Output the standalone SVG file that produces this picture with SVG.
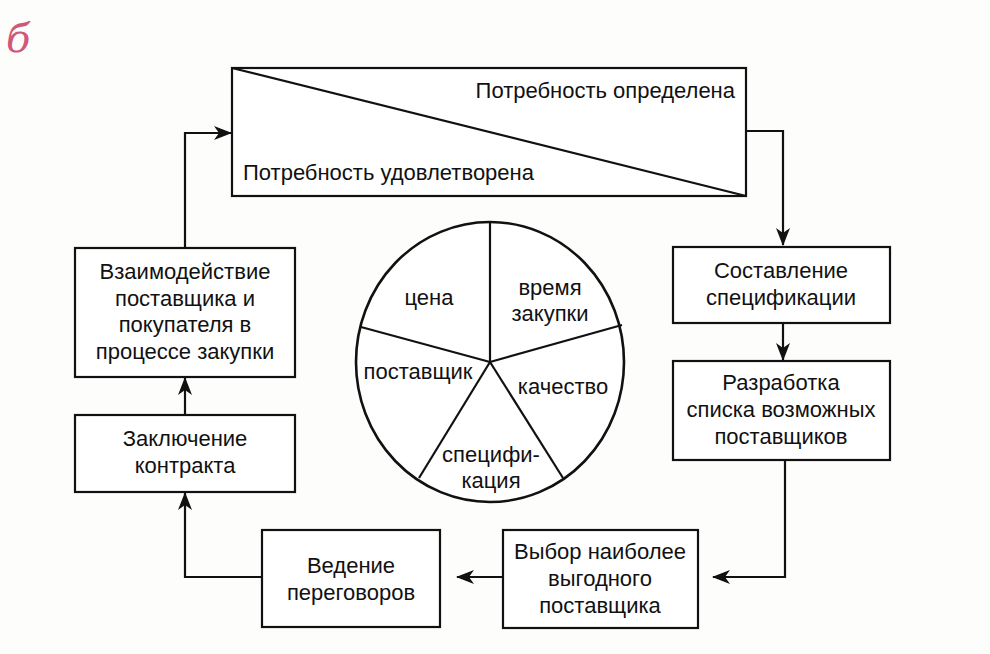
<svg xmlns="http://www.w3.org/2000/svg" width="990" height="654" viewBox="0 0 990 654">
<defs>
<marker id="arr" viewBox="0 0 18 14" markerWidth="18" markerHeight="14" refX="17" refY="7" orient="auto" markerUnits="userSpaceOnUse">
<path d="M0,0 L18,7 L0,14 L5,7 Z" fill="#111"/>
</marker>
</defs>
<style>
.box{fill:#fff;stroke:#111;stroke-width:2.2}
.ln{fill:none;stroke:#111;stroke-width:2.2}
.t{font-family:"Liberation Sans",Arial,sans-serif;font-size:22px;fill:#111;text-anchor:middle}
.s{font-family:"Liberation Sans",Arial,sans-serif;font-size:22px;fill:#111}
</style>
<rect width="990" height="654" fill="#fdfdfb"/>
<text x="6" y="52" font-family="'DejaVu Serif',serif" font-style="italic" font-size="40" fill="#d0587a">б</text>

<g id="connectors">
<polyline class="ln" points="746,131 783,131 783,245" marker-end="url(#arr)"/>
<line class="ln" x1="783" y1="323" x2="783" y2="360" marker-end="url(#arr)"/>
<polyline class="ln" points="785,460 785,577 713,577" marker-end="url(#arr)"/>
<line class="ln" x1="503" y1="577" x2="457" y2="577" marker-end="url(#arr)"/>
<polyline class="ln" points="262,577 185,577 185,493" marker-end="url(#arr)"/>
<line class="ln" x1="185" y1="414" x2="185" y2="378" marker-end="url(#arr)"/>
<polyline class="ln" points="185,248 185,133 231,133" marker-end="url(#arr)"/>
</g>

<g id="need">
<rect class="box" x="232" y="68" width="514" height="128"/>
<line class="ln" x1="232" y1="68" x2="746" y2="196"/>
<text class="s" x="735" y="98" text-anchor="end">Потребность определена</text>
<text class="s" x="243" y="180">Потребность удовлетворена</text>
</g>

<g id="spec">
<rect class="box" x="673" y="247" width="217" height="76"/>
<text class="t" x="781" y="278">Составление</text>
<text class="t" x="781" y="305">спецификации</text>
</g>

<g id="list">
<rect class="box" x="673" y="361" width="217" height="99"/>
<text class="t" x="781" y="390">Разработка</text>
<text class="t" x="781" y="417">списка возможных</text>
<text class="t" x="781" y="444">поставщиков</text>
</g>

<g id="choice">
<rect class="box" x="503" y="530" width="195" height="98"/>
<text class="t" x="600" y="559">Выбор наиболее</text>
<text class="t" x="600" y="586">выгодного</text>
<text class="t" x="600" y="613">поставщика</text>
</g>

<g id="negot">
<rect class="box" x="262" y="530" width="178" height="97"/>
<text class="t" x="351" y="573">Ведение</text>
<text class="t" x="351" y="600">переговоров</text>
</g>

<g id="contract">
<rect class="box" x="75" y="415" width="220" height="77"/>
<text class="t" x="185" y="446">Заключение</text>
<text class="t" x="185" y="473">контракта</text>
</g>

<g id="interact">
<rect class="box" x="75" y="248" width="220" height="129"/>
<text class="t" x="185" y="279">Взаимодействие</text>
<text class="t" x="185" y="306">поставщика и</text>
<text class="t" x="185" y="332">покупателя в</text>
<text class="t" x="185" y="359">процессе закупки</text>
</g>

<g id="pie">
<ellipse cx="490" cy="362" rx="134" ry="140" fill="#fff" stroke="#111" stroke-width="2.6"/>
<line class="ln" x1="490" y1="362" x2="490" y2="222"/>
<line class="ln" x1="490" y1="362" x2="622" y2="325"/>
<line class="ln" x1="490" y1="362" x2="563" y2="478"/>
<line class="ln" x1="490" y1="362" x2="419" y2="478"/>
<line class="ln" x1="490" y1="362" x2="361" y2="327"/>
<text class="t" x="429" y="305">цена</text>
<text class="t" x="550" y="295">время</text>
<text class="t" x="550" y="321">закупки</text>
<text class="t" x="418" y="379">поставщик</text>
<text class="t" x="563" y="394">качество</text>
<text class="t" x="491" y="462">специфи-</text>
<text class="t" x="491" y="488">кация</text>
</g>
</svg>
